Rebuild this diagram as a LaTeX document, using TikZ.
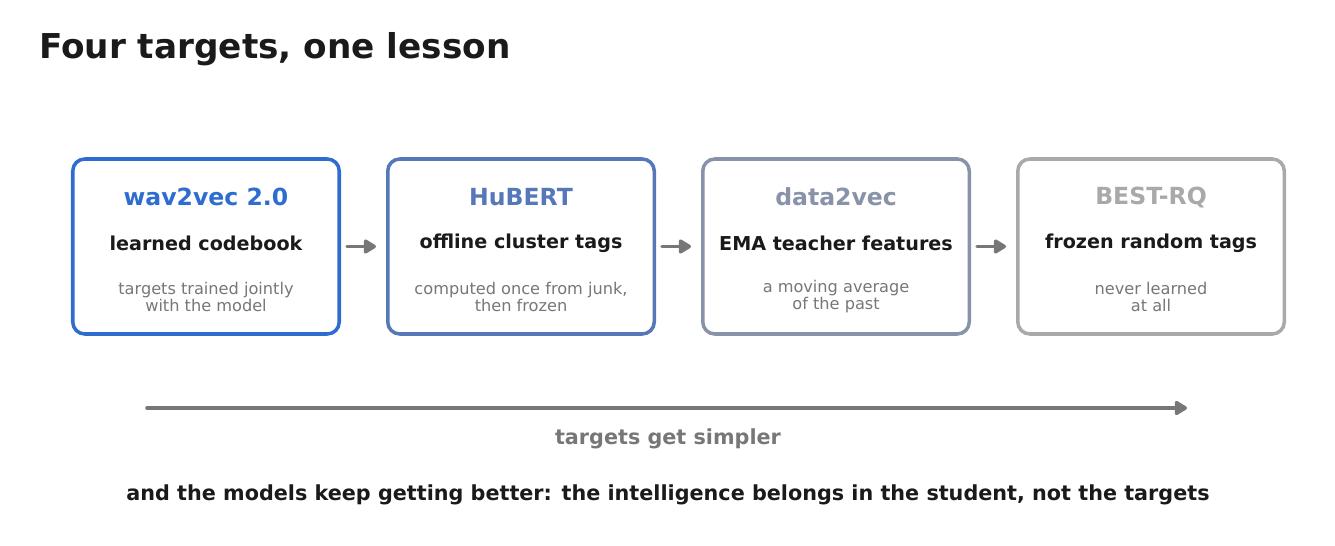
\documentclass[tikz,border=0pt]{standalone}
\usepackage{fontspec}
\setmainfont{DejaVu Sans}
\usetikzlibrary{arrows.meta, positioning, calc}

\definecolor{inkdark}{HTML}{1A1A1A}
\definecolor{inkgrey}{HTML}{777777}
\definecolor{stageA}{HTML}{2E6DCF}
\definecolor{stageB}{HTML}{5678B9}
\definecolor{stageC}{HTML}{8892A9}
\definecolor{stageD}{HTML}{A9A9A9}

\begin{document}
\begin{tikzpicture}[node distance=0.9cm,
    % box and text styles
    stage/.style={
      rectangle, rounded corners=0.24cm, line width=2pt,
      minimum width=5.33cm, minimum height=3.5cm, fill=white
    },
    head/.style={font=\bfseries\fontsize{13.4}{15}\selectfont},
    tagline/.style={font=\bfseries\fontsize{10.9}{12}\selectfont, text=inkdark},
    note/.style={font=\fontsize{9.2}{9.7}\selectfont, text=inkgrey, align=center},
    arrow/.style={line width=2pt, draw=inkgrey, line cap=round,
      -{Triangle[length=8pt, width=9pt, round]}}
]
\useasboundingbox (0,0) rectangle (26.7,-10.92);

% Title
\node [anchor=west, font=\bfseries\fontsize{19.5}{23}\selectfont, text=inkdark]
  (title) at (0.66,-0.98) {Four targets, one lesson};

% The four stages
\node [stage, draw=stageA] (wav) at (4.12,-4.93) {};
\node [stage, draw=stageB, right=of wav] (hubert) {};
\node [stage, draw=stageC, right=of hubert] (dtv) {};
\node [stage, draw=stageD, right=of dtv] (bestrq) {};

% Texts inside the boxes
\node [head, text=stageA] (wavName) at ([yshift=0.99cm]wav.center) {wav2vec 2.0};
\node [tagline] (wavTag) at ([yshift=0.07cm]wav.center) {learned codebook};
\node [note] (wavNote) at ([yshift=-1.0cm]wav.center) {targets trained jointly\\with the model};

\node [head, text=stageB] (hubertName) at ([yshift=0.99cm]hubert.center) {HuBERT};
\node [tagline] (hubertTag) at ([yshift=0.07cm]hubert.center) {offline cluster tags};
\node [note] (hubertNote) at ([yshift=-1.0cm]hubert.center) {computed once from junk,\\then frozen};

\node [head, text=stageC] (dtvName) at ([yshift=0.99cm]dtv.center) {data2vec};
\node [tagline] (dtvTag) at ([yshift=0.07cm]dtv.center) {EMA teacher features};
\node [note] (dtvNote) at ([yshift=-1.0cm]dtv.center) {a moving average\\of the past};

\node [head, text=stageD] (bestrqName) at ([yshift=0.99cm]bestrq.center) {BEST-RQ};
\node [tagline] (bestrqTag) at ([yshift=0.07cm]bestrq.center) {frozen random tags};
\node [note] (bestrqNote) at ([yshift=-1.0cm]bestrq.center) {never learned\\at all};

% Arrows between the stages
\draw [arrow, shorten <=0.12cm, shorten >=0.2cm] (wav) -- (hubert);
\draw [arrow, shorten <=0.12cm, shorten >=0.2cm] (hubert) -- (dtv);
\draw [arrow, shorten <=0.12cm, shorten >=0.2cm] (dtv) -- (bestrq);

% Long axis arrow
\coordinate (axisStart) at (2.94,-8.16);
\coordinate (axisEnd) at (23.74,-8.16);
\draw [arrow] (axisStart) -- (axisEnd);
\node [font=\bfseries\fontsize{11.8}{13}\selectfont, text=inkgrey]
  (simpler) at (13.36,-8.78) {targets get simpler};

% Bottom line
\node [font=\bfseries\fontsize{11.8}{13}\selectfont, text=inkdark]
  (lesson) at (13.36,-9.9) {and the models keep getting better: the intelligence belongs in the student, not the targets};

\end{tikzpicture}
\end{document}
